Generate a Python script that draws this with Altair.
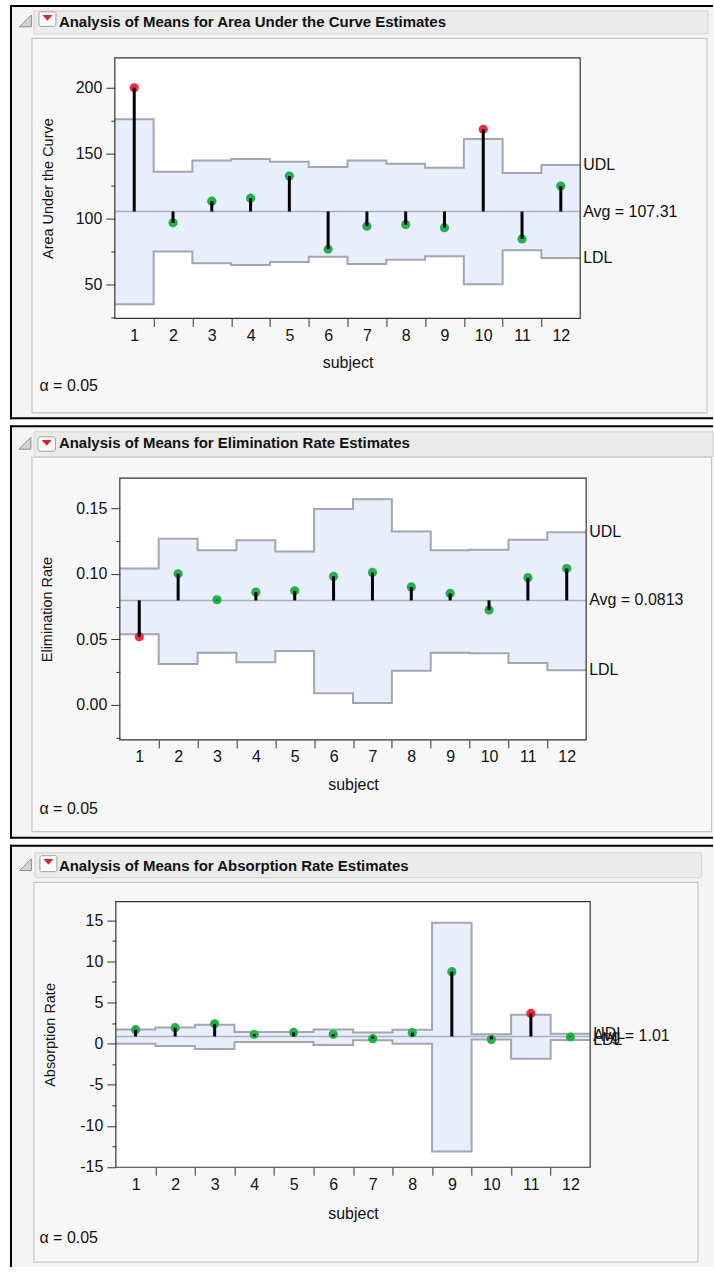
import altair as alt
import pandas as pd

subjects = list(range(1, 13))

# ---- Panel 1: Area Under the Curve ----
auc_values = [200, 97, 113.5, 115.8, 132.7, 76.8, 94.4, 95.6, 93.3, 168.3, 84.7, 125]
auc_udl = [176, 136, 144.6, 145.7, 143.6, 139.6, 144.6, 142.1, 139, 161, 135, 141.1]
auc_ldl = [34.9, 75, 66.1, 64.8, 67.1, 71.1, 65.5, 68.8, 71.4, 50, 76, 70.1]
auc_center = 105.6
auc_avg_label = "107.31"
auc_flag = ["out", "in", "in", "in", "in", "in", "in", "in", "in", "out", "in", "in"]
auc_ticks = [25, 50, 75, 100, 125, 150, 175, 200, 225]

# ---- Panel 2: Elimination Rate ----
elim_values = [0.052, 0.100, 0.0802, 0.086, 0.087, 0.098, 0.101, 0.090, 0.085, 0.0723, 0.097, 0.104]
elim_udl = [0.104, 0.1267, 0.118, 0.1256, 0.117, 0.1495, 0.1569, 0.1322, 0.118, 0.1183, 0.1259, 0.1317]
elim_ldl = [0.0538, 0.0312, 0.0398, 0.0325, 0.0411, 0.0089, 0.0015, 0.0261, 0.0398, 0.0393, 0.032, 0.0264]
elim_center = 0.0797
elim_avg_label = "0.0813"
elim_flag = ["out", "in", "in", "in", "in", "in", "in", "in", "in", "in", "in", "in"]
elim_ticks = [-0.025, 0, 0.025, 0.05, 0.075, 0.1, 0.125, 0.15, 0.175]

# ---- Panel 3: Absorption Rate ----
abs_values = [1.7, 1.94, 2.42, 1.13, 1.37, 1.13, 0.6, 1.33, 8.75, 0.52, 3.67, 0.81]
abs_udl = [1.72, 1.97, 2.3, 1.41, 1.41, 1.73, 1.37, 1.7, 14.7, 1.13, 3.5, 1.21]
abs_ldl = [0, -0.28, -0.65, 0.2, 0.2, -0.16, 0.4, 0, -13.1, 0.5, -1.85, 0.45]
abs_center = 0.88
abs_avg_label = "1.01"
abs_flag = ["in", "in", "in", "in", "in", "in", "in", "in", "in", "in", "out", "in"]
abs_ticks = [-15, -12.5, -10, -7.5, -5, -2.5, 0, 2.5, 5, 7.5, 10, 12.5, 15, 17.5]

x_tick_positions = [s + d for s in subjects for d in (0, 0.5)][:-1]

FONT = "Liberation Sans, Arial, Helvetica, sans-serif"
GREEN = "#22b14c"
RED = "#ee2a45"
BAND = "#e8eefc"
LIMIT = "#a3a6b0"
CENTER_C = "#aab0c0"

CW, CH = 714, 1268
one = pd.DataFrame({"k": [0]})


def build(sp):
    L, T, W, H = sp["plot"]
    v = alt.value

    def rect(x1, y1, x2, y2, **kw):
        return alt.Chart(one).mark_rect(**kw).encode(x=v(x1), x2=v(x2), y=v(y1), y2=v(y2))

    xs = alt.Scale(domain=[0.5, 12.5], range=[L, L + W], nice=False, zero=False)
    ys = alt.Scale(domain=sp["domain"], range=[T + H, T], nice=False, zero=False)
    m = sp["major"]
    major_test = f"abs(datum.value / {m} - round(datum.value / {m})) < 1e-6"
    common = dict(
        grid=False, domain=False, labelFont=FONT, titleFont=FONT, labelFontSize=16,
        labelColor="#111111", titleColor="#111111", titleFontWeight="normal",
        tickColor="#333333", tickWidth=1, zindex=2, labelOverlap=False,
        labelFlush=False, labelBound=False,
    )
    xaxis = alt.Axis(
        orient="bottom", offset=(T + H) - CH,
        values=x_tick_positions,
        labelExpr="datum.value % 1 == 0 ? format(datum.value, 'd') : ''",
        tickOpacity={"condition": {"test": "datum.value % 1 == 0", "value": 0}, "value": 1},
        tickSize=8, labelPadding=1,
        title="subject", titleFontSize=16, titleX=L + W / 2, titleY=sp["xtitle_dy"],
        titleBaseline="middle", titleAlign="center", **common,
    )
    yaxis = alt.Axis(
        orient="left", offset=-L,
        values=sp["ticks"],
        labelExpr=f"{major_test} ? {sp['fmt']} : ''",
        tickSize={"condition": {"test": major_test, "value": 9}, "value": 4},
        labelPadding=4,
        title=sp["ytitle"], titleFontSize=14.5, titleX=sp["ytitle_x"] - L, titleY=T + H / 2,
        titleBaseline="middle", titleAlign="center", titleAngle=270, **common,
    )

    df = pd.DataFrame({
        "subject": subjects, "value": sp["values"], "udl": sp["udl"], "ldl": sp["ldl"],
        "flag": sp["flags"], "center": [sp["center"]] * 12,
    })
    steps = pd.DataFrame({
        "edge": [s - 0.5 for s in subjects] + [12.5],
        "udl": sp["udl"] + [sp["udl"][-1]],
        "ldl": sp["ldl"] + [sp["ldl"][-1]],
    })
    labels = pd.DataFrame({
        "label": ["UDL", "Avg = " + sp["avg"], "LDL"],
        "y": [sp["udl"][-1], sp["center"], sp["ldl"][-1]],
    })
    center_df = pd.DataFrame({"center": [sp["center"]]})

    top, bottom = sp["top"], sp["bottom"]
    layers = [
        rect(10, top, 714, bottom, fill="#f4f4f4"),
        alt.Chart(one).mark_rule(color="black", strokeWidth=2).encode(x=v(10), x2=v(714), y=v(top + 1)),
        alt.Chart(one).mark_rule(color="black", strokeWidth=2).encode(x=v(11), y=v(top), y2=v(bottom)),
    ]
    if sp["bottom_line"]:
        layers.append(alt.Chart(one).mark_rule(color="black", strokeWidth=2).encode(
            x=v(10), x2=v(714), y=v(bottom - 1)))
    hx1, hy1, hx2, hy2 = sp["header"]
    layers.append(rect(hx1, hy1, hx2, hy2, fill="#ebebeb", stroke="#d2d2d2", strokeWidth=1))
    ix1, iy1, ix2, iy2 = sp["inner"]
    layers.append(rect(ix1, iy1, ix2, iy2, fill="#f7f7f7", stroke="#c6c6c6", strokeWidth=1.2))
    tx, ty = sp["tri"]
    layers.append(alt.Chart(one).mark_point(
        shape="M 1 -1 L 1 1 L -1 1 Z", filled=True, fill="#d4d4d4", stroke="#8c8c8c",
        strokeWidth=1, size=140, opacity=1).encode(x=v(tx), y=v(ty)))
    bx1, by1, bx2, by2 = sp["icon"]
    layers.append(rect(bx1, by1, bx2, by2, fill="#fdfdfd", stroke="#a0a0a0", strokeWidth=1, cornerRadius=2))
    layers.append(alt.Chart(one).mark_point(
        shape="M -1 -0.55 L 1 -0.55 L 0 0.6 Z", filled=True, fill="#e0202e", size=100,
        opacity=1, strokeWidth=0).encode(x=v((bx1 + bx2) / 2), y=v(by1 + 6)))
    layers.append(alt.Chart(one).mark_text(
        text=sp["title"], align="left", baseline="alphabetic", font=FONT, fontSize=15,
        fontWeight="bold", color="#111111").encode(x=v(59), y=v(sp["title_base"])))
    layers.append(alt.Chart(one).mark_text(
        text="α = 0.05", align="left", baseline="alphabetic", font=FONT, fontSize=16,
        color="#111111").encode(x=v(39.5), y=v(sp["alpha_base"])))
    layers.append(rect(L, T, L + W, T + H, fill="white"))

    base = alt.Chart(df)
    layers += [
        base.mark_rect(fill=BAND, stroke=BAND, strokeWidth=1).transform_calculate(
            lo="datum.subject - 0.5", hi="datum.subject + 0.5"
        ).encode(
            x=alt.X("lo:Q", scale=xs, axis=xaxis), x2="hi:Q",
            y=alt.Y("ldl:Q", scale=ys, axis=yaxis), y2="udl:Q"),
        alt.Chart(steps).mark_line(interpolate="step-after", color=LIMIT, strokeWidth=2).encode(
            x=alt.X("edge:Q", scale=xs, axis=xaxis), y=alt.Y("udl:Q", scale=ys, axis=yaxis)),
        alt.Chart(steps).mark_line(interpolate="step-after", color=LIMIT, strokeWidth=2).encode(
            x=alt.X("edge:Q", scale=xs, axis=xaxis), y=alt.Y("ldl:Q", scale=ys, axis=yaxis)),
        alt.Chart(center_df).mark_rule(color=CENTER_C, strokeWidth=1.5).encode(
            x=v(L), x2=v(L + W), y=alt.Y("center:Q", scale=ys, axis=yaxis)),
        base.mark_circle(size=85, opacity=1).encode(
            x=alt.X("subject:Q", scale=xs, axis=xaxis),
            y=alt.Y("value:Q", scale=ys, axis=yaxis),
            color=alt.Color("flag:N", scale=alt.Scale(domain=["in", "out"], range=[GREEN, RED]), legend=None)),
        base.mark_rule(color="black", strokeWidth=3).encode(
            x=alt.X("subject:Q", scale=xs, axis=xaxis),
            y=alt.Y("center:Q", scale=ys, axis=yaxis), y2="value:Q"),
        alt.Chart(labels).mark_text(align="left", baseline="middle", font=FONT, fontSize=16,
                                    color="#111111").encode(
            x=v(L + W + 3), y=alt.Y("y:Q", scale=ys, axis=yaxis), text="label:N"),
        rect(L, T, L + W, T + H, fillOpacity=0, stroke="#333333", strokeWidth=1.2),
    ]
    return alt.layer(*layers)


p1 = build(dict(
    title="Analysis of Means for Area Under the Curve Estimates", ytitle="Area Under the Curve",
    values=auc_values, udl=auc_udl, ldl=auc_ldl, center=auc_center, avg=auc_avg_label, flags=auc_flag,
    domain=[24.0, 222.9], ticks=auc_ticks, major=50, fmt="format(datum.value, 'd')",
    plot=(115, 57, 466, 261), top=4, bottom=419, bottom_line=True,
    header=(34, 10, 709, 33), title_base=26, tri=(25.5, 20), icon=(39, 11, 56, 25.5),
    inner=(32, 37.5, 708, 412.5), alpha_base=391, ytitle_x=48.7, xtitle_dy=43.7,
))
p2 = build(dict(
    title="Analysis of Means for Elimination Rate Estimates", ytitle="Elimination Rate",
    values=elim_values, udl=elim_udl, ldl=elim_ldl, center=elim_center, avg=elim_avg_label, flags=elim_flag,
    domain=[-0.0267, 0.1729], ticks=elim_ticks, major=0.05, fmt="format(datum.value, '.2f')",
    plot=(120, 478, 467, 262), top=425, bottom=839, bottom_line=True,
    header=(34, 431.5, 714, 456.5), title_base=448, tri=(25, 443), icon=(38, 436.5, 55.5, 451),
    inner=(32, 457, 712.6, 832), alpha_base=814, ytitle_x=47.8, xtitle_dy=45,
))
p3 = build(dict(
    title="Analysis of Means for Absorption Rate Estimates", ytitle="Absorption Rate",
    values=abs_values, udl=abs_udl, ldl=abs_ldl, center=abs_center, avg=abs_avg_label, flags=abs_flag,
    domain=[-15.03, 17.27], ticks=abs_ticks, major=5,
    fmt="(datum.value < 0 ? '-' : '') + format(abs(datum.value), 'd')",
    plot=(116, 902, 475, 266), top=845, bottom=1268, bottom_line=False,
    header=(35, 853, 702.6, 878), title_base=871, tri=(25.5, 865), icon=(40, 856, 57, 872),
    inner=(34, 882.7, 699, 1263), alpha_base=1244, ytitle_x=51, xtitle_dy=46.3,
))

chart = alt.layer(p1, p2, p3).resolve_scale(
    x="independent", y="independent"
).resolve_axis(
    x="independent", y="independent"
).properties(
    width=CW, height=CH, padding=0, background="white",
).configure_view(strokeWidth=0)

chart.save("out.html", embed_options={"renderer": "svg", "actions": False})
